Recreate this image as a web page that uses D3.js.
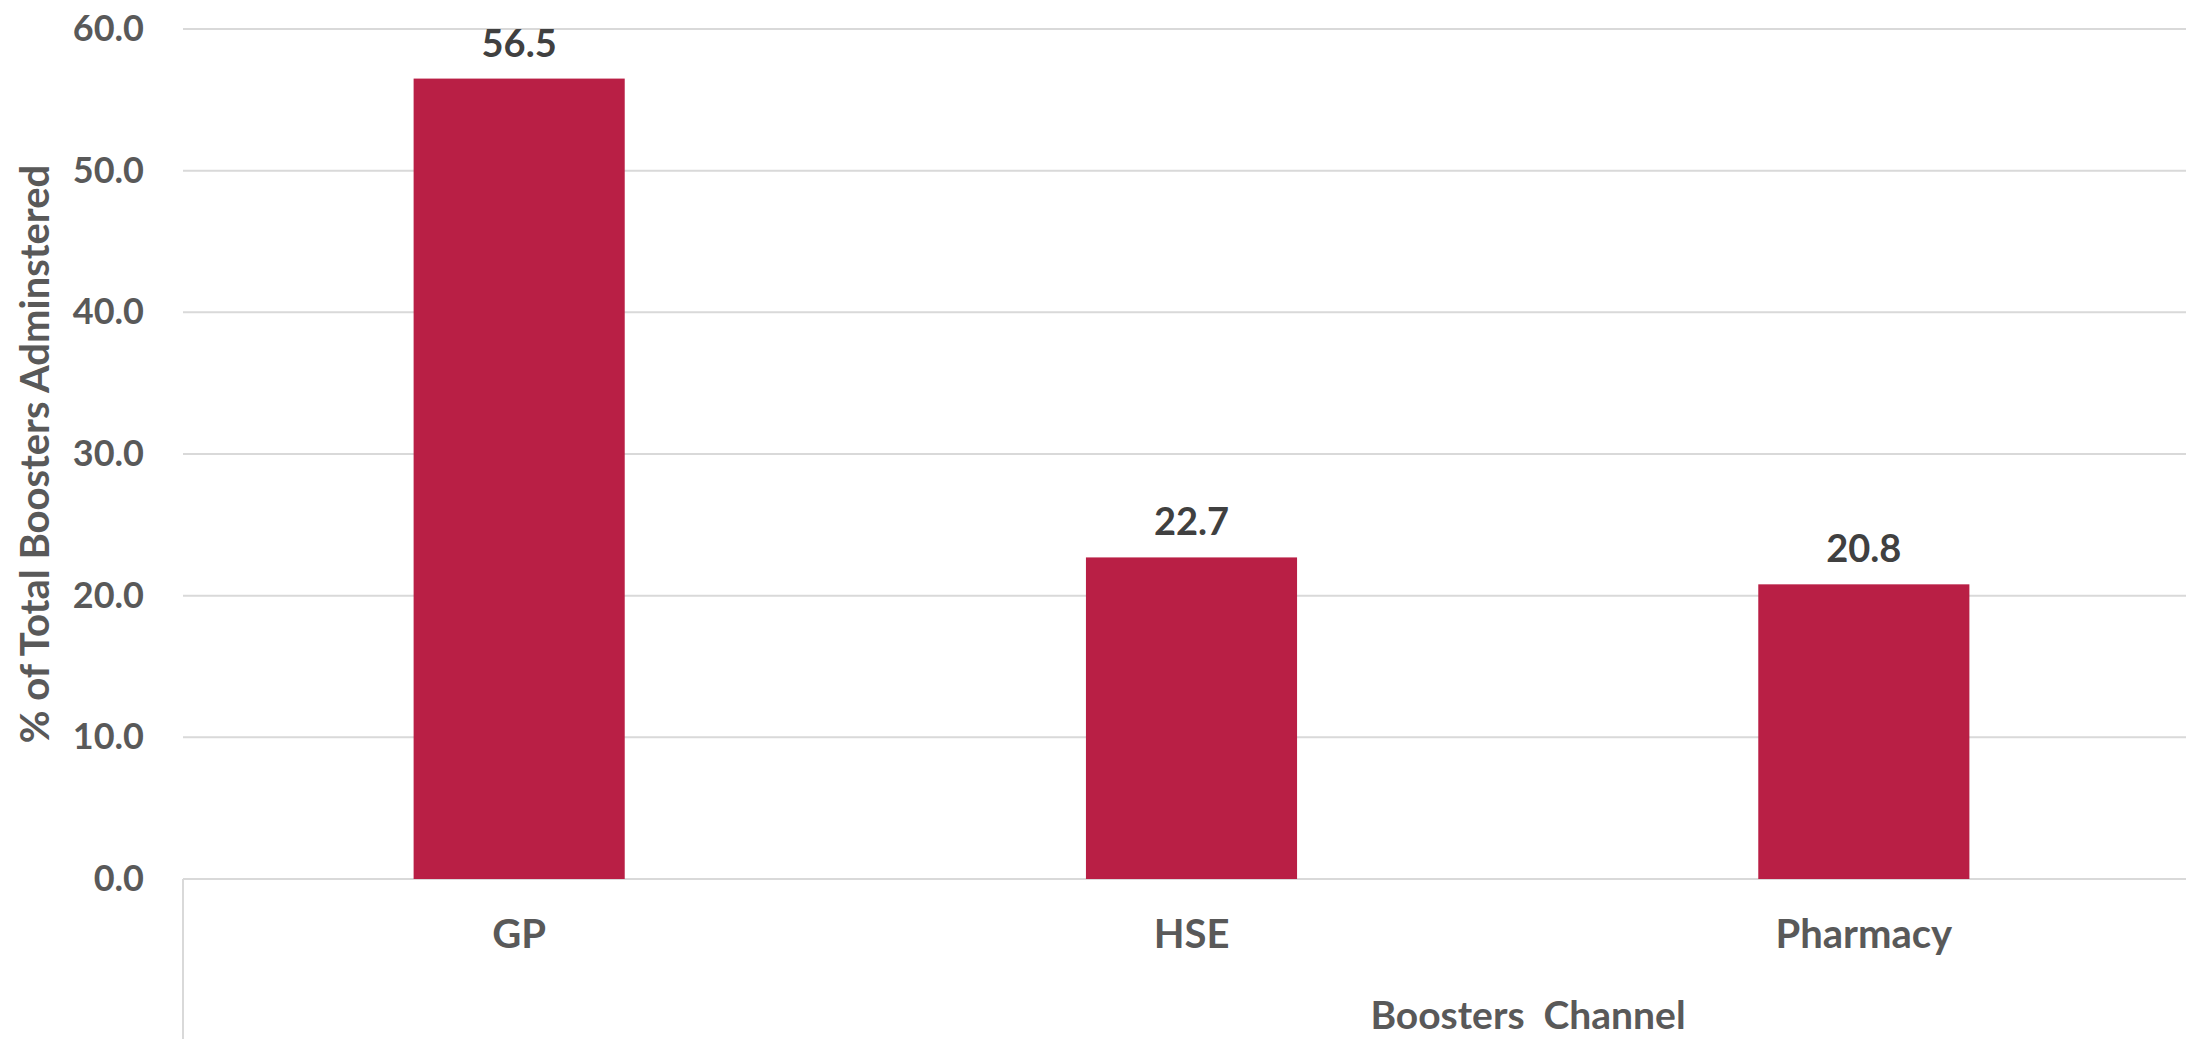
<!DOCTYPE html>
<html><head><meta charset="utf-8">
<script src="https://cdn.jsdelivr.net/npm/d3@7"></script>
<style>html,body{margin:0;padding:0;background:#fff;}svg{display:block;}</style>
</head><body>
<script>
const categories = ["GP", "HSE", "Pharmacy"];
const values = [56.5, 22.7, 20.8];
const yTicks = [0, 10, 20, 30, 40, 50, 60];
const yTitle = "% of Total Boosters Adminstered";
const xTitle = "Boosters  Channel";

const W = 2186, H = 1039;
const m = {left: 183, top: 29, bottom: 879, right: 2200};
const svg = d3.select("body").append("svg").attr("width", W).attr("height", H);

const x = d3.scaleBand().domain(categories).range([m.left, m.right]).paddingInner(0.686).paddingOuter(0.343);
const y = d3.scaleLinear().domain([0, 60]).range([m.bottom, m.top]);

// gridlines
svg.append("g").selectAll("line").data(yTicks).join("line")
  .attr("x1", m.left).attr("x2", W).attr("y1", d => y(d)).attr("y2", d => y(d))
  .attr("stroke", "#d9d9d9").attr("stroke-width", 2);

// vertical axis line below zero
svg.append("line").attr("x1", m.left).attr("x2", m.left).attr("y1", y(0)).attr("y2", H)
  .attr("stroke", "#d9d9d9").attr("stroke-width", 2);

// y tick labels
const yAxis = d3.axisLeft(y).tickValues(yTicks).tickFormat(d3.format(".1f")).tickSize(0).tickPadding(0);
const ga = svg.append("g").attr("transform", `translate(144,0)`).call(yAxis);
ga.select(".domain").remove();
ga.selectAll("text").attr("font-family", "Lato").attr("font-weight", "bold").attr("font-size", 36)
  .attr("fill", "#595959");

// bars
svg.append("g").selectAll("rect").data(values).join("rect")
  .attr("x", (d, i) => x(categories[i])).attr("width", x.bandwidth())
  .attr("y", d => y(d)).attr("height", d => y(0) - y(d)).attr("fill", "#B91F45");

// data labels
svg.append("g").selectAll("text").data(values).join("text")
  .attr("x", (d, i) => x(categories[i]) + x.bandwidth() / 2).attr("y", d => y(d) - 22)
  .attr("text-anchor", "middle").attr("font-family", "Lato").attr("font-weight", "bold")
  .attr("font-size", 38).attr("fill", "#404040").text(d => d3.format(".1f")(d));

// x category labels
const xAxis = d3.axisBottom(x).tickSize(0).tickPadding(0);
const gx = svg.append("g").attr("transform", `translate(0,${m.bottom})`).call(xAxis);
gx.select(".domain").remove();
gx.selectAll("text").attr("dy", null).attr("y", 69).attr("font-family", "Lato").attr("font-weight", "bold")
  .attr("font-size", 40).attr("fill", "#595959");

// axis titles
svg.append("text").attr("x", 1528).attr("y", 1029).attr("text-anchor", "middle")
  .attr("font-family", "Lato").attr("font-weight", "bold").attr("font-size", 39).attr("fill", "#595959")
  .attr("xml:space", "preserve").style("white-space", "pre").text(xTitle);
svg.append("text").attr("transform", `translate(49,${(m.top + m.bottom) / 2}) rotate(-90)`)
  .attr("text-anchor", "middle").attr("font-family", "Lato").attr("font-weight", "bold")
  .attr("font-size", 40).attr("fill", "#595959").text(yTitle);
</script>
</body></html>
